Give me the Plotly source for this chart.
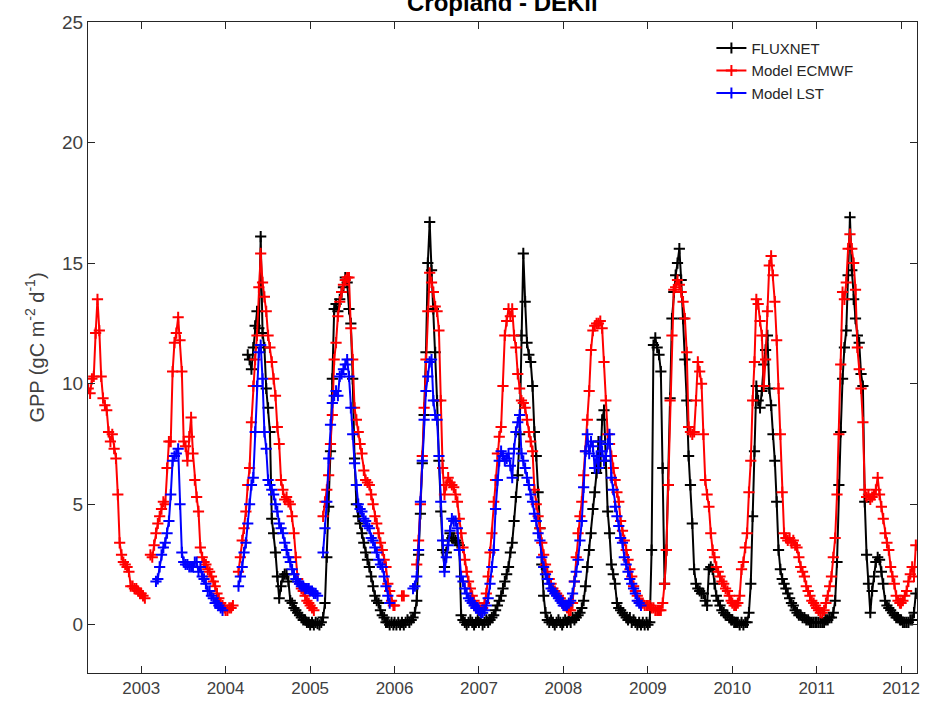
import numpy as np
import pandas as pd
import plotly.graph_objects as go

N = None
# Each list holds 8-day composite values of one year: element k is day-of-year 1 + 8*k.
years = list(range(2002, 2013))
year_ticks = [2003, 2004, 2005, 2006, 2007, 2008, 2009, 2010, 2011, 2012]

# ---------------- FLUXNET (black) ----------------
flux_2004 = [N]*12 + [11.2, 11.0, 10.6, 11.5, 12.4, 13.0, 12.3, 16.1, 12.1, 11.5, 9.8, 9.0, 8.0, 4.4, 3.8, 3.0, 2.0, 1.1,
                      1.6, 2.0, 2.1, 2.1, 1.8, 1.0, 0.9, 0.7, 0.6, 0.5, 0.4, 0.3, 0.2, 0.2, 0.1, 0.1]
flux_2005 = [0.0, 0.1, 0.0, 0.1, 0.05, 0.0, 0.1, 0.3, 0.9, 2.8, 4.9, 7.2, 10.2, 13.1, 13.3, 13.0, 13.5, 13.8, 14.0, 14.4,
             14.2, 13.1, 12.5, 10.2, 6.9, 5.0, 4.5, 4.2, 3.8, 3.4, 3.0, 2.7, 2.4, 2.0, 1.6, 1.2, 1.0, 0.9, 0.6, 0.4,
             0.3, 0.1, 0.1, 0.0, 0.1, 0.0]
flux_2006 = [0.1, 0.0, 0.1, 0.0, 0.1, 0.0, 0.1, 0.2, 0.1, 0.2, 0.3, 0.5, 1.0, 2.9, 4.6, 6.7, 8.7, 11.3, 15.0, 16.7,
             14.7, 13.1, 11.3, 9.3, 6.8, 4.7, 3.1, 2.4, 3.0, 3.5, 3.8, 3.6, 3.6, 3.5, 3.4, 3.3, 0.4, 0.2, 0.1, 0.0,
             0.1, 0.2, 0.1, 0.0, 0.1, 0.2]
flux_2007 = [0.1, 0.2, 0.0, 0.1, 0.2, 0.1, 0.2, 0.3, 0.4, 0.6, 0.8, 1.0, 1.2, 1.5, 1.8, 2.1, 2.4, 3.0, 3.4, 4.3,
             5.3, 6.2, 7.9, 12.0, 15.4, 13.4, 11.7, 11.2, 10.9, 9.9, 8.0, 7.0, 5.5, 4.0, 2.5, 1.2, 0.5, 0.2, 0.1, 0.2,
             0.1, 0.0, 0.1, 0.2, 0.1, 0.0]
flux_2008 = [0.1, 0.2, 0.1, 0.2, 0.1, 0.3, 0.2, 0.3, 0.4, 0.5, 0.7, 1.0, 1.6, 2.4, 3.1, 3.8, 4.8, 5.5, 6.3, 7.6,
             6.5, 8.5, 8.9, 6.8, 4.7, 3.8, 2.5, 2.1, 1.7, 0.9, 0.7, 0.6, 0.5, 0.4, 0.3, 0.2, 0.3, 0.1, 0.2, 0.1,
             0.0, 0.1, 0.0, 0.1, 0.0, 0.1]
flux_2009 = [0.0, 0.1, 3.1, 11.6, 11.9, 11.5, 11.2, 10.5, 6.5, 1.7, 3.1, 5.8, 9.4, 12.7, 13.8, 14.5, 15.0, 15.6, 14.3, 12.7,
             11.0, 9.3, 7.0, 5.8, 4.2, 2.3, 1.7, 1.5, 1.4, 1.3, 1.3, 1.0, 0.8, 2.3, 2.4, 2.3, 1.7, 1.2, 1.0, 0.8,
             0.6, 0.5, 0.4, 0.4, 0.3, 0.2]
flux_2010 = [0.2, 0.1, 0.1, 0.1, 0.0, 0.1, 0.0, 0.1, 0.1, 0.5, 1.7, 4.5, 7.2, 9.9, 9.3, 9.0, 9.7, 10.8, 11.4, 12.0,
             9.8, 9.1, 7.9, 6.8, 5.1, 3.1, 2.3, 1.9, 1.7, 1.5, 1.3, 1.1, 0.9, 0.8, 0.6, 0.5, 0.4, 0.4, 0.3, 0.3,
             0.2, 0.2, 0.1, 0.1, 0.1, 0.1]
flux_2011 = [0.1, 0.1, 0.1, 0.1, 0.1, 0.2, 0.2, 0.3, 0.3, 0.5, 1.0, 2.6, 5.8, 8.0, 10.2, 11.5, 12.2, 14.5, 16.9, 14.7,
             13.5, 12.7, 12.0, 11.7, 10.4, 9.9, 5.1, 2.9, 1.7, 0.5, 1.4, 2.0, 2.6, 2.8, 2.7, 2.2, 1.7, 1.0, 0.8, 0.7,
             0.6, 0.5, 0.4, 0.3, 0.3, 0.2]
flux_2012 = [0.2, 0.1, 0.1, 0.1, 0.1, 0.2, 0.2, 0.5, 1.3]

# ---------------- Model ECMWF (red) ----------------
ecmwf_2002 = [N]*17 + [9.8, 9.6, 10.2, 10.3, 12.1, 13.5, 12.2, 10.3, 9.4, 9.1, 8.9, 8.0, 7.6, 7.9, 7.3, 6.9, 5.4, 3.4,
                       2.9, 2.6, 2.5, 2.4, 2.2, 1.6, 1.6, 1.5, 1.5, 1.4, 1.3]
ecmwf_2003 = [1.3, 1.2, 1.1, N, N, 2.9, 2.8, 3.3, 3.8, 4.2, 4.5, 4.8, 5.1, 5.0, 6.5, 7.6, 7.6, 10.5, 11.7, 12.1,
              12.75, 11.8, 10.5, 7.6, 7.4, 6.8, 7.8, 8.6, 7.1, 6.0, 5.3, 4.7, 3.2, 2.8, 2.6, 2.5, 2.3, 2.2, 2.0, 1.8,
              1.6, 1.3, 1.1, 0.9, 0.8, 0.7]
ecmwf_2004 = [0.6, 0.6, 0.7, 0.7, 0.8, N, N, 2.2, 2.8, 3.5, 4.0, 4.7, 5.8, 6.5, 8.4, 9.9, 11.0, 12.0, 14.0, 15.4,
              14.2, 13.6, 13.0, 12.0, 11.5, 10.9, 10.2, 9.5, 8.2, 7.5, 6.0, 5.6, 5.2, 5.3, 5.1, 5.0, 4.5, 3.8, 2.8, 1.9,
              1.7, 1.5, 1.4, 1.2, 1.0, 0.9]
ecmwf_2005 = [0.8, 0.7, 0.6, N, N, N, N, 4.5, 5.1, 5.6, 6.2, 7.5, 8.7, 11.0, 11.7, 12.8, 13.4, 13.8, 14.1, 14.3,
              14.4, 14.4, 12.3, 11.0, 9.0, 8.5, 8.0, 7.5, 7.1, 6.4, 6.0, 5.9, 5.8, 5.4, 5.0, 4.5, 4.2, 3.8, 3.4, 3.1,
              2.7, 2.4, 1.7, 1.4, 1.0, 0.8]
ecmwf_2006 = [0.8, N, N, N, 1.2, 1.2, N, N, N, N, N, N, 2.5, 3.5, 5.0, 7.0, 9.0, 11.0, 13.0, 14.6,
              14.2, 13.8, 13.2, 13.0, 12.2, 9.3, 6.5, 5.4, 5.8, 6.1, 5.9, 5.8, 5.7, 5.4, 5.1, 4.4, 3.8, 3.2, 2.7, 2.2,
              1.8, 1.5, 1.2, 1.0, 0.8, 0.7]
ecmwf_2007 = [0.6, 0.6, 0.7, 0.9, 1.3, 2.0, 3.0, 3.8, 5.1, 6.0, 7.1, 7.8, 8.2, 9.9, 12.0, 12.6, 13.1, 12.8, 13.1, 12.0,
              11.5, 10.4, 9.8, 9.3, 9.2, 9.0, 8.5, 8.0, 7.6, 7.2, 5.6, 5.0, 4.5, 4.0, 3.4, 2.9, 2.5, 2.2, 1.9, 1.7,
              1.5, 1.4, 1.3, 1.2, 1.1, 1.0]
ecmwf_2008 = [0.9, 0.8, 0.7, 0.6, 0.6, 0.9, 1.8, 2.8, 3.8, 4.5, 5.1, 6.2, 7.2, 8.5, 9.7, 11.4, 12.2, 12.4, 12.5, 12.5,
              12.6, 12.3, 10.9, 9.3, 7.9, 7.5, 7.0, 6.5, 6.0, 5.5, 5.1, 4.3, 3.9, 3.5, 3.1, 2.7, 2.3, 2.0, 1.6, 1.4,
              1.2, 1.0, 0.9, 0.9, 0.8, 0.8]
ecmwf_2009 = [0.8, 0.8, 0.7, 0.7, 0.6, 0.6, 0.6, 0.6, 0.9, 1.7, 3.1, 5.8, 9.3, 12.0, 13.9, 14.0, 14.3, 14.1, 13.8, 13.4,
              12.7, 11.3, 8.2, 8.0, 7.9, 8.0, 9.3, 10.9, 10.5, 10.0, 7.9, 6.0, 5.4, 4.9, 3.8, 3.1, 2.8, 2.4, 2.2, 2.0,
              1.8, 1.7, 1.5, 1.4, 1.2, 1.0]
ecmwf_2010 = [0.9, 0.8, 0.8, 0.9, 1.2, 2.3, 2.6, 3.2, 3.8, 5.5, 6.8, 9.3, 10.9, 13.5, 13.3, 12.6, 12.0, 9.9, 11.0, 13.0,
              14.9, 15.3, 14.5, 13.4, 11.8, 9.8, 7.9, 5.5, 3.8, 3.6, 3.5, 3.6, 3.4, 3.5, 3.3, 3.2, 2.8, 2.4, 2.2, 2.0,
              1.6, 1.4, 1.2, 1.0, 0.9, 0.8]
ecmwf_2011 = [0.7, 0.6, 0.5, 0.5, 0.6, 0.9, 1.2, 1.6, 2.0, 2.8, 3.6, 5.4, 7.9, 10.8, 13.8, 13.5, 14.2, 15.6, 16.2, 15.6,
              15.0, 13.9, 11.5, 10.6, 9.8, 8.4, 5.6, 5.3, 5.4, 5.2, 5.3, 5.4, 5.6, 6.1, 5.4, 4.9, 4.4, 3.8, 3.4, 3.1,
              2.4, 2.0, 1.7, 1.2, 1.0, 0.9]
ecmwf_2012 = [0.9, 1.0, 1.2, 1.4, 1.8, 2.1, 2.4, 2.0, 3.3]

# ---------------- Model LST (blue) ----------------
lst_2003 = [N]*8 + [1.8, 1.9, 2.4, 2.9, 3.2, 3.4, 3.8, 4.3, 5.4, 6.8, 7.0, 7.1, 7.3, 5.0, 3.0, 2.6, 2.5, 2.5, 2.4, 2.4,
                    2.4, 2.6, 2.6, 2.2, 2.4, 2.0, 1.9, 1.7, 1.4, 1.4, 1.2, 1.1, 0.9, 0.9, 0.8, 0.7, 0.6, N]
lst_2004 = [N]*7 + [1.6, 2.0, 2.4, 3.0, 3.4, 4.2, 5.0, 5.8, 6.1, 8.0, 9.9, 11.3, 11.6, 10.2, 8.0, 7.3, 6.0, 5.8, 5.6, 5.4,
                    5.0, 4.7, 4.2, 4.0, 3.8, 3.4, 3.1, 2.8, 2.6, 2.3, 2.1, 1.9, 1.8, 1.7, 1.6, 1.6, 1.5, 1.5, 1.5]
lst_2005 = [1.4, 1.4, 1.3, 1.3, 1.2, N, N, 3.0, 4.0, 5.1, 6.9, 8.3, 9.2, 9.5, 9.7, 9.5, 10.3, 10.4, 10.6, 10.8,
            11.0, 10.3, 9.0, 7.9, 6.7, 5.8, 5.0, 4.8, 4.7, 4.4, 4.3, 4.1, 4.0, 3.6, 3.5, 3.2, 3.0, 2.7, 2.5, 2.4,
            2.0, 1.6, 1.2, 0.9, N, N]
lst_2006 = [N]*10 + [1.5, 1.6, 2.0, 3.1, 5.1, 6.8, 8.5, 9.7, 10.3, 10.9, 11.0, 9.3, 8.7, 8.5, 7.0, 5.1, 3.5, 2.2, 2.8, 3.3,
                     3.9, 4.4, 4.3, 4.3, 4.0, 3.1, 2.0, 1.8, 1.5, 1.3, 1.1, 1.0, 0.9, 0.8, 0.7, 0.7]
lst_2007 = [0.6, 0.5, 0.5, 0.6, 0.8, 1.1, 1.7, 2.4, 3.1, 4.8, 6.0, 6.8, 7.2, 7.0, 6.8, 6.9, 7.1, 6.6, 6.1, 7.3,
            8.0, 8.4, 8.7, 7.1, 6.8, 6.5, 6.1, 5.8, 5.4, 5.1, 4.6, 4.3, 3.8, 3.5, 2.8, 2.4, 2.1, 1.9, 1.7, 1.5,
            1.4, 1.3, 1.2, 1.1, 1.0, 0.9]
lst_2008 = [0.8, 0.8, 0.8, 0.9, 1.0, 1.3, 1.8, 2.2, 2.7, 3.5, 4.3, 5.7, 7.2, 7.9, 7.1, 7.6, 7.4, 6.5, 7.0, 6.5,
            7.6, 7.2, 6.8, 7.0, 7.5, 7.9, 6.1, 5.6, 4.9, 4.5, 4.1, 3.6, 3.4, 2.8, 2.5, 2.2, 1.9, 1.7, 1.5, 1.3,
            1.0, 0.9, 0.8, N, N, N]

fluxnet = {2004: flux_2004, 2005: flux_2005, 2006: flux_2006, 2007: flux_2007, 2008: flux_2008,
           2009: flux_2009, 2010: flux_2010, 2011: flux_2011, 2012: flux_2012}
ecmwf = {2002: ecmwf_2002, 2003: ecmwf_2003, 2004: ecmwf_2004, 2005: ecmwf_2005, 2006: ecmwf_2006,
         2007: ecmwf_2007, 2008: ecmwf_2008, 2009: ecmwf_2009, 2010: ecmwf_2010, 2011: ecmwf_2011, 2012: ecmwf_2012}
lst = {2003: lst_2003, 2004: lst_2004, 2005: lst_2005, 2006: lst_2006, 2007: lst_2007, 2008: lst_2008}


def build(yearly):
    xs, ys = [], []
    for y in years:
        vals = yearly.get(y)
        if vals is None:
            continue
        start = pd.Timestamp(year=y, month=1, day=1)
        for k, v in enumerate(vals):
            xs.append((start + pd.Timedelta(days=8 * k)).strftime("%Y-%m-%d"))
            ys.append(v)
    return xs, ys


FONT = "Liberation Sans, Arial, Helvetica, sans-serif"
AX = "#262626"

fig = go.Figure()
for name, data, col in [("FLUXNET", fluxnet, "#000000"),
                        ("Model ECMWF", ecmwf, "#ff0000"),
                        ("Model LST", lst, "#0000ff")]:
    xs, ys = build(data)
    fig.add_trace(go.Scatter(
        x=xs, y=ys, name=name, mode="lines+markers",
        line=dict(color=col, width=2),
        marker=dict(symbol="cross-thin", size=8, color=col, line=dict(color=col, width=2)),
        connectgaps=False,
    ))

fig.update_layout(
    width=932, height=712,
    margin=dict(l=88, r=15, t=18, b=39),
    paper_bgcolor="white", plot_bgcolor="white",
    font=dict(family=FONT, size=17, color="#404040"),
    showlegend=True,
    legend=dict(x=0.752, y=0.985, xanchor="left", yanchor="top",
                bgcolor="rgba(0,0,0,0)", borderwidth=0,
                font=dict(family=FONT, size=15, color="#262626"),
                tracegroupgap=0, itemwidth=30),
    annotations=[dict(text="<b>Cropland - DEKli</b>", x=0.5, xref="paper", y=1.006, yref="paper",
                      xanchor="center", yanchor="bottom", showarrow=False,
                      font=dict(family=FONT, size=24, color="#000000"))],
)

fig.update_xaxes(
    type="date",
    range=["2002-05-16", "2012-03-10"],
    tickvals=[f"{y}-01-01" for y in year_ticks],
    ticktext=[str(y) for y in year_ticks],
    ticks="inside", ticklen=7, tickwidth=1, tickcolor=AX,
    showline=True, linecolor=AX, linewidth=1, mirror="ticks",
    showgrid=False, zeroline=False,
    tickfont=dict(size=17, color="#404040"),
)
fig.update_yaxes(
    range=[-2, 25],
    tickvals=[0, 5, 10, 15, 20, 25],
    ticks="inside", ticklen=7, tickwidth=1, tickcolor=AX,
    showline=True, linecolor=AX, linewidth=1, mirror="ticks",
    showgrid=False, zeroline=False,
    tickfont=dict(size=19, color="#404040"),
    title=dict(text="GPP (gC m<sup>-2</sup> d<sup>-1</sup>)", font=dict(size=20, color="#404040"), standoff=12),
)

fig.write_html("out.html")
